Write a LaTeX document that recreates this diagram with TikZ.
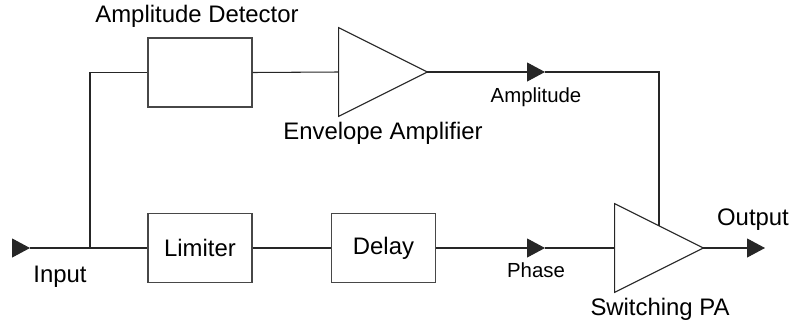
\documentclass[tikz,border=0pt]{standalone}
\usepackage{fontspec}
\setmainfont{Liberation Sans}
\usetikzlibrary{arrows.meta,positioning,calc}

\begin{document}
\begin{tikzpicture}[
  x=0.02cm,y=-0.02cm,
  wire/.style={line width=.6pt,draw=black!85},
  sig/.style={wire,-{Triangle[length=.36cm,width=.38cm]}},
  block/.style={draw=black!72,line width=.6pt,minimum width=2.08cm,
    minimum height=1.38cm,inner sep=0pt,font=\fontsize{13.6}{16}\selectfont},
  ampbox/.style={minimum width=1.76cm,minimum height=1.76cm,inner sep=0pt},
  caption/.style={font=\fontsize{13.6}{16}\selectfont,inner sep=0pt,anchor=base},
  tag/.style={font=\fontsize{11.6}{14}\selectfont,inner sep=0pt,anchor=base}
]

\useasboundingbox (0,0) rectangle (795,325);

% blocks
\node[block] (det) at (200,72.5) {};
\node[block] (lim) at (200,248) {Limiter};
\node[block] (del) at (383.5,248) {Delay};
\node[ampbox] (env) at (383,72) {};
\node[ampbox] (pa) at (659,248) {};

% amplifier triangles
\draw[wire] (env.north west) -- (env.east) -- (env.south west) -- cycle;
\draw[wire] (pa.north west) -- (pa.east) -- (pa.south west) -- cycle;

% signal points
\coordinate (inl) at (12,248);
\coordinate (in) at (30,248);
\coordinate (split) at (90,248);
\coordinate (atip) at (545,72);
\coordinate (ptip) at (545,248);
\coordinate (otip) at (765,248);
\coordinate (supply) at ($(pa.north west)!.5!(pa.east)$);

% wiring
\draw[sig] (inl) -- (in);
\draw[wire] (in) -- (lim.west);
\draw[wire] (split) |- (det.west);
\draw[wire] (det.east) -- (env.west);
\draw[sig] (env.east) -- (atip);
\draw[wire] (atip) -| (supply);
\draw[wire] (lim.east) -- (del.west);
\draw[sig] (del.east) -- (ptip);
\draw[wire] (ptip) -- (pa.west);
\draw[sig] (pa.east) -- (otip);

% labels
\node[caption] (detname) at (197,22) {Amplitude Detector};
\node[caption] (envname) at (383,139) {Envelope Amplifier};
\node[caption] (paname) at (660,315) {Switching PA};
\node[caption] (inname) at (60,282) {Input};
\node[caption] (outname) at (753,225) {Output};
\node[tag] (ampname) at (536,102) {Amplitude};
\node[tag] (phname) at (536,277) {Phase};

\end{tikzpicture}
\end{document}
